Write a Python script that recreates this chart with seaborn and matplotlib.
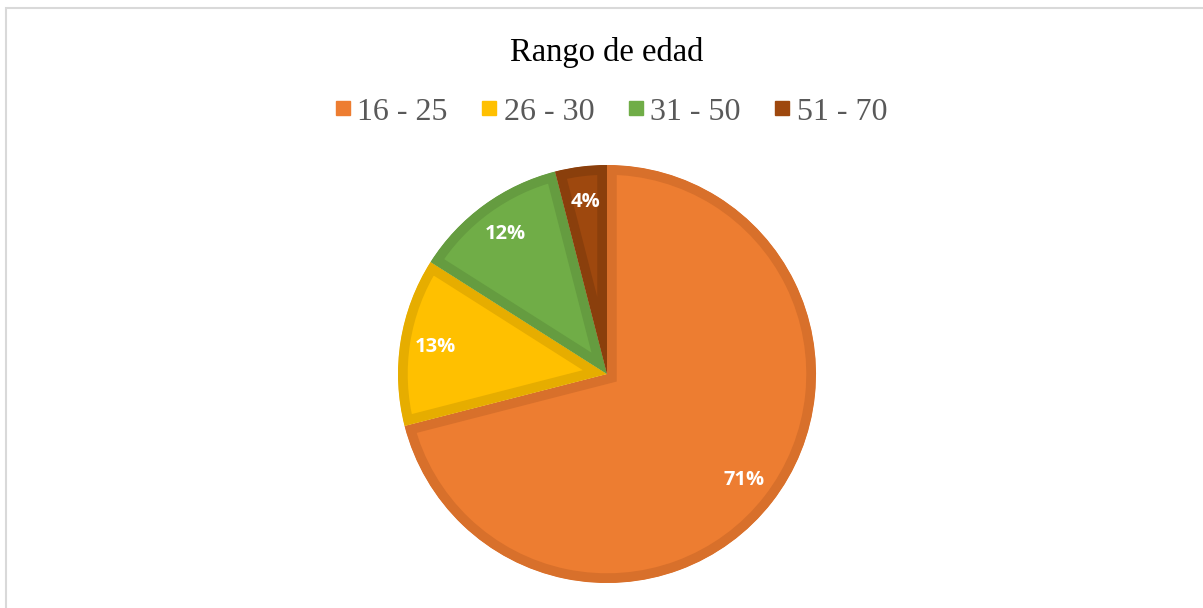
import matplotlib
matplotlib.use("Agg")
import matplotlib.pyplot as plt
from matplotlib.lines import Line2D
from matplotlib.patches import Rectangle
import seaborn as sns

# ---- data ----
categories = ["16 - 25", "26 - 30", "31 - 50", "51 - 70"]
values = [71, 13, 12, 4]
title = "Rango de edad"

fill_colors = ["#ED7D31", "#FFC000", "#70AD47", "#9E480E"]
edge_colors = ["#D8702B", "#E6AD00", "#659C40", "#8A3F0C"]

sns.set_theme(style="white")
plt.rcParams["font.family"] = ["Liberation Serif", "DejaVu Serif"]

W, H = 1203, 608
fig = plt.figure(figsize=(W / 100, H / 100), dpi=100)
ax = fig.add_axes([0, 0, 1, 1])

palette = sns.color_palette(fill_colors)
wedges, texts, autotexts = ax.pie(
    values,
    colors=palette,
    startangle=90,
    counterclock=False,
    center=(607, H - 374),
    radius=209,
    autopct="%1.0f%%",
    pctdistance=0.83,
    wedgeprops=dict(linewidth=14, antialiased=True),
    textprops=dict(color="white", fontsize=14.5, fontweight="bold",
                   family=["Open Sans", "DejaVu Sans"]),
    frame=True,
)
for w, ec in zip(wedges, edge_colors):
    w.set_edgecolor(ec)
    w.set_clip_on(True)
    w.set_clip_path(w)

ax.set_xlim(0, W)
ax.set_ylim(0, H)
ax.set_aspect("auto")
ax.axis("off")

# border of chart area
fig.patches.append(Rectangle((6 / W, -0.1), 1.2, (H - 8) / H + 0.1,
                             transform=fig.transFigure, fill=False,
                             edgecolor="#D9D9D9", linewidth=1.5))

fig.text(607 / W, 1 - 52 / H, title, ha="center", va="center",
         fontsize=23.5, color="black")

handles = [Line2D([0], [0], marker="s", linestyle="none", markersize=10.5,
                  markerfacecolor=c, markeredgecolor=c) for c in fill_colors]
fig.legend(handles, categories, ncol=4, loc="center",
           bbox_to_anchor=(611 / W, 1 - 112 / H), frameon=False,
           fontsize=23, labelcolor="#595959", handlelength=0.5,
           handletextpad=0.2, columnspacing=1.05, borderpad=0)

fig.savefig("out.png", dpi=100)
